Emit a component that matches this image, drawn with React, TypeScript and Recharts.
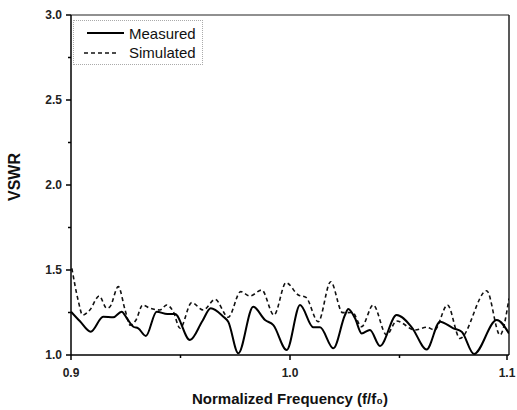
import React from 'react'
import { LineChart, Line, XAxis, YAxis, ReferenceLine, Label } from 'recharts'

// f/f0 vs VSWR
const measuredFreq = [0.900, 0.904, 0.909, 0.9147, 0.9193, 0.9231, 0.9255, 0.9285, 0.9307, 0.9342, 0.9391, 0.944, 0.9475, 0.9543, 0.960, 0.9638, 0.9696, 0.9718, 0.9764, 0.9832, 0.9886, 0.9924, 0.9985, 1.0046, 1.0106, 1.0137, 1.0198, 1.0251, 1.0266, 1.0297, 1.0327, 1.0365, 1.0411, 1.0487, 1.0556, 1.0624, 1.0685, 1.0746, 1.0784, 1.084, 1.0944, 1.100]
const measuredVswr = [1.255, 1.20, 1.137, 1.225, 1.222, 1.255, 1.216, 1.166, 1.157, 1.112, 1.255, 1.241, 1.241, 1.088, 1.20, 1.275, 1.225, 1.196, 1.01, 1.284, 1.206, 1.176, 1.029, 1.294, 1.163, 1.163, 1.039, 1.235, 1.271, 1.216, 1.127, 1.147, 1.053, 1.235, 1.163, 1.033, 1.196, 1.157, 1.137, 1.006, 1.206, 1.127]

const simulatedFreq = [0.9004, 0.9033, 0.9053, 0.9086, 0.9129, 0.9163, 0.9178, 0.9216, 0.9247, 0.927, 0.9297, 0.9327, 0.9361, 0.9406, 0.9437, 0.9467, 0.9498, 0.9551, 0.9604, 0.9658, 0.9718, 0.9775, 0.9817, 0.9871, 0.9927, 0.9982, 1.0038, 1.0073, 1.0129, 1.0186, 1.024, 1.0285, 1.0327, 1.038, 1.0441, 1.0487, 1.0571, 1.0624, 1.066, 1.0719, 1.0776, 1.0898, 1.0959, 1.100]
const simulatedVswr = [1.51, 1.32, 1.235, 1.265, 1.347, 1.275, 1.284, 1.402, 1.265, 1.176, 1.206, 1.294, 1.275, 1.265, 1.294, 1.255, 1.157, 1.308, 1.265, 1.327, 1.222, 1.373, 1.347, 1.382, 1.235, 1.425, 1.353, 1.339, 1.196, 1.431, 1.249, 1.25, 1.167, 1.294, 1.118, 1.20, 1.147, 1.163, 1.147, 1.294, 1.098, 1.378, 1.118, 1.333]

const xTicks = [0.9, 0.95, 1.0, 1.05, 1.1]
const xMajor = [0.9, 1.0, 1.1]
const yTicks = [1.0, 1.25, 1.5, 1.75, 2.0, 2.25, 2.5, 2.75, 3.0]
const yMajor = [1.0, 1.5, 2.0, 2.5, 3.0]

const measured = measuredFreq.map((f, i) => ({ f, v: measuredVswr[i] }))
const simulated = simulatedFreq.map((f, i) => ({ f, v: simulatedVswr[i] }))

const FONT = '"Liberation Sans", Arial, sans-serif'
const TICK_SIZE = 5
const TICK_MARGIN = 8

const XTick = (props: any) => {
  const { x, y, payload } = props
  const axisY = y - TICK_SIZE - TICK_MARGIN
  const major = xMajor.some((m) => Math.abs(m - payload.value) < 1e-6)
  return (
    <g>
      <line x1={x} x2={x} y1={axisY} y2={axisY + (major ? 5 : 3)} stroke="#000" strokeWidth={1.5} />
      {major && (
        <text x={x} y={y} dy="0.71em" textAnchor="middle" fontSize={12} fontWeight="bold" fontFamily={FONT} fill="#222">
          {payload.value.toFixed(1)}
        </text>
      )}
    </g>
  )
}

const YTick = (props: any) => {
  const { x, y, payload } = props
  const axisX = x + TICK_SIZE + TICK_MARGIN
  const major = yMajor.some((m) => Math.abs(m - payload.value) < 1e-6)
  return (
    <g>
      <line x1={axisX} x2={axisX - (major ? 5 : 3)} y1={y} y2={y} stroke="#000" strokeWidth={1.5} />
      {major && (
        <text x={axisX - 9} y={y} dy="0.35em" textAnchor="end" fontSize={12} fontWeight="bold" fontFamily={FONT} fill="#222">
          {payload.value.toFixed(1)}
        </text>
      )}
    </g>
  )
}

const App = () => {
  return (
    <div style={{ position: 'absolute', left: 0, top: 0, width: 517, height: 410, background: '#fff' }}>
      <LineChart width={517} height={410} margin={{ top: 15, right: 8, left: 0, bottom: 0 }}>
        <XAxis
          dataKey="f"
          type="number"
          domain={[0.9, 1.1]}
          ticks={xTicks}
          allowDataOverflow
          height={55}
          tickLine={false}
          tickSize={TICK_SIZE}
          tickMargin={TICK_MARGIN}
          tick={<XTick />}
          axisLine={{ stroke: '#000', strokeWidth: 1.5 }}
        >
          <Label
            value="Normalized Frequency (f/f₀)"
            position="insideBottom"
            offset={6}
            style={{ fontSize: 15, fontWeight: 'bold', fontFamily: FONT, fill: '#111' }}
          />
        </XAxis>
        <YAxis
          dataKey="v"
          type="number"
          domain={[1, 3]}
          ticks={yTicks}
          allowDataOverflow
          width={71}
          tickLine={false}
          tickSize={TICK_SIZE}
          tickMargin={TICK_MARGIN}
          tick={<YTick />}
          axisLine={{ stroke: '#000', strokeWidth: 1.5 }}
        >
          <Label
            content={(p: any) => {
              const vb = p.viewBox
              const cx = 14
              const cy = vb.y + vb.height / 2 - 8
              return (
                <text
                  x={cx}
                  y={cy}
                  transform={`rotate(-90 ${cx} ${cy})`}
                  textAnchor="middle"
                  dominantBaseline="central"
                  fontSize={16}
                  fontWeight="bold"
                  fontFamily={FONT}
                  fill="#111"
                >
                  VSWR
                </text>
              )
            }}
          />
        </YAxis>
        <ReferenceLine y={3} stroke="#222" strokeWidth={1.2} />
        <ReferenceLine x={1.1} stroke="#222" strokeWidth={1.5} />
        <Line
          data={simulated}
          dataKey="v"
          type="monotone"
          stroke="#111"
          strokeWidth={1.6}
          strokeDasharray="4 3"
          dot={false}
          isAnimationActive={false}
        />
        <Line
          data={measured}
          dataKey="v"
          type="monotone"
          stroke="#000"
          strokeWidth={2}
          dot={false}
          isAnimationActive={false}
        />
      </LineChart>
      <div
        style={{
          position: 'absolute',
          left: 73,
          top: 20,
          width: 130,
          height: 45,
          border: '1px dotted #aaa',
          boxSizing: 'border-box',
          fontFamily: FONT,
          fontSize: 15,
          color: '#111',
        }}
      >
        <svg width={40} height={45} style={{ position: 'absolute', left: 10, top: 0 }}>
          <line x1={3} x2={40} y1={12} y2={12} stroke="#000" strokeWidth={2} />
          <line x1={0} x2={34} y1={32} y2={32} stroke="#111" strokeWidth={1.6} strokeDasharray="4 3" />
        </svg>
        <div style={{ position: 'absolute', left: 55, top: 4, lineHeight: '18px' }}>Measured</div>
        <div style={{ position: 'absolute', left: 55, top: 23, lineHeight: '18px' }}>Simulated</div>
      </div>
    </div>
  )
}

export default App
